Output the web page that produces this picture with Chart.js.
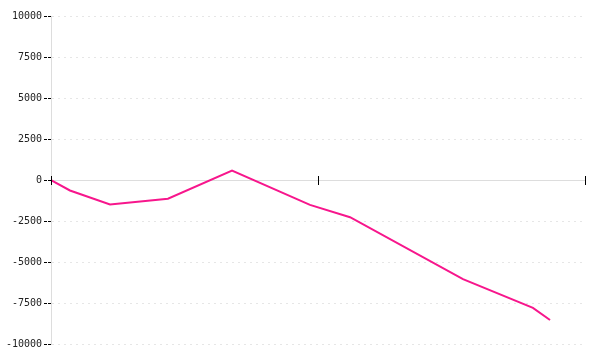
<!DOCTYPE html>
<html>
<head>
<meta charset="utf-8">
<script src="https://cdn.jsdelivr.net/npm/chart.js@4"></script>
<style>
  html, body { margin: 0; padding: 0; background: #fff; }
  #wrap { width: 600px; height: 360px; }
</style>
</head>
<body>
<div id="wrap"><canvas id="chart"></canvas></div>
<script>
// positions along the x axis (unlabelled, 0..20)
const xValues = [0, 0.71, 2.21, 4.38, 6.78, 9.70, 11.2, 15.43, 18.05, 18.69];
// series values
const yValues = [0, -640, -1490, -1140, 570, -1520, -2270, -6040, -7800, -8540];
// y tick labels
const yTicks = [10000, 7500, 5000, 2500, 0, -2500, -5000, -7500, -10000];

const LINE = '#f7168c';
const AXIS = '#dddddd';
const GRID = '#e6e6e6';

// tick marks crossing the x axis line (drawn at y = 0)
const crossTicks = {
  id: 'crossTicks',
  afterDraw(chart) {
    const x = chart.scales.x, y = chart.scales.y;
    const y0 = y.getPixelForValue(0);
    const ctx = chart.ctx;
    ctx.save();
    ctx.strokeStyle = '#000';
    ctx.lineWidth = 1;
    x.ticks.forEach(t => {
      const px = Math.round(x.getPixelForValue(t.value)) + 0.5;
      ctx.beginPath();
      ctx.moveTo(px, y0 - 4);
      ctx.lineTo(px, y0 + 5);
      ctx.stroke();
    });
    ctx.restore();
  }
};

new Chart(document.getElementById('chart'), {
  type: 'line',
  data: {
    datasets: [{
      data: xValues.map((x, i) => ({ x, y: yValues[i] })),
      borderColor: LINE,
      borderWidth: 2,
      pointRadius: 0,
      tension: 0,
      fill: false,
    }],
  },
  options: {
    responsive: true,
    maintainAspectRatio: false,
    animation: false,
    layout: { padding: { top: 16, right: 15, bottom: 16, left: 0 } },
    plugins: { legend: { display: false }, tooltip: { enabled: false } },
    scales: {
      x: {
        type: 'linear',
        min: 0,
        max: 20,
        position: { y: 0 },
        ticks: { display: false, stepSize: 10 },
        grid: { display: false },
        border: { color: AXIS, width: 1 },
      },
      y: {
        min: -10000,
        max: 10000,
        afterFit: (s) => { s.width = 51; },
        afterBuildTicks: (s) => { s.ticks = yTicks.map(v => ({ value: v })); },
        ticks: {
          color: '#222',
          padding: 2,
          font: { family: 'DejaVu Sans Mono', size: 10 },
          callback: (v) => String(v),
        },
        grid: {
          color: GRID,
          tickColor: '#000',
          tickLength: 7,
          tickBorderDash: [3, 1],
        },
        border: { color: AXIS, width: 1, dash: [2, 4] },
      },
    },
  },
  plugins: [crossTicks],
});
</script>
</body>
</html>
